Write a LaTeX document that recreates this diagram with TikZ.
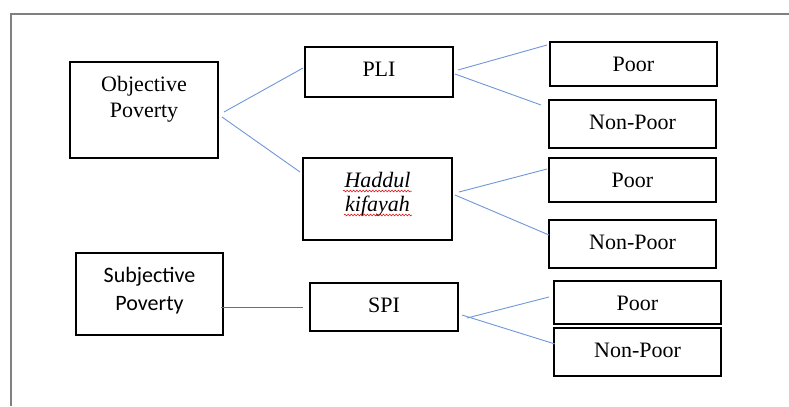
\documentclass[tikz,border=0pt]{standalone}
\usepackage{fontspec}
\setmainfont{Liberation Serif}
\newfontfamily\calib{Carlito}
\usetikzlibrary{decorations.pathmorphing}
\definecolor{connblue}{RGB}{112,150,218}
\definecolor{darkblue}{RGB}{68,114,196}
\definecolor{framegray}{RGB}{128,128,128}
\newcommand{\bxt}[3]{\parbox[c][#2][t]{#1}{\centering\rule{0pt}{29bp}#3}}
\tikzset{
  boxnode/.style={draw=black, line width=1.6bp, inner sep=0pt, outer sep=0pt},
  conn/.style={draw=connblue, line width=0.9bp},
  conndark/.style={draw=darkblue, line width=0.9bp},
  wavy/.style={draw=red!85!black, line width=0.5bp, decorate,
    decoration={snake, amplitude=0.9bp, segment length=3.2bp}}
}
\begin{document}
\begin{tikzpicture}[x=1bp, y=-1bp]
\useasboundingbox (0,0) rectangle (789,406);
\fontsize{22bp}{26bp}\selectfont
% frame
\draw[framegray, line width=1.3bp] (789,14) -- (11,14) -- (11,406);

% boxes
\node[boxnode] (obj) at (144,110) {\bxt{148bp}{96bp}{Objective\\Poverty}};
\node[boxnode] (pli) at (379,72) {\bxt{148bp}{50bp}{PLI}};
\node[boxnode] (had) at (377.5,199) {\bxt{149bp}{82bp}{\fontsize{22bp}{24bp}\selectfont\itshape Haddul\\kifayah}};
\node[boxnode] (p1) at (633.5,64) {\bxt{167bp}{44bp}{Poor}};
\node[boxnode] (n1) at (632.5,124) {\bxt{167bp}{48bp}{Non-Poor}};
\node[boxnode] (p2) at (632.5,180) {\bxt{167bp}{44bp}{Poor}};
\node[boxnode] (n2) at (632.5,244) {\bxt{167bp}{48bp}{Non-Poor}};
\node[boxnode] (subj) at (149.5,294) {\bxt{147bp}{82bp}{\calib\fontsize{22bp}{28bp}\selectfont Subjective\\Poverty}};
\node[boxnode] (spi) at (384,307) {\bxt{148bp}{48bp}{SPI}};
\node[boxnode] (p3) at (637.5,302.5) {\bxt{167bp}{43bp}{Poor}};
\node[boxnode] (n3) at (637.5,352) {\bxt{167bp}{48bp}{Non-Poor}};

% spell-check underlines
\draw[wavy] (343,191) -- (412,191);
\draw[wavy] (344,215) -- (412,215);

% connectors
\draw[conn] ([shift={(6,2)}]obj.east) -- ([shift={(-2,-4)}]pli.west);
\draw[conn] ([shift={(4,7)}]obj.east) -- ([shift={(-3,14)}]had.north west);
\draw[conn] ([shift={(5,-2)}]pli.east) -- ([shift={(-3,-19)}]p1.west);
\draw[conn] ([shift={(2,2)}]pli.east) -- ([shift={(-8,-19)}]n1.west);
\draw[conn] ([shift={(7,-7)}]had.east) -- ([shift={(-2,-11)}]p2.west);
\draw[conn] ([shift={(3,-4)}]had.east) -- ([shift={(0,-9)}]n2.west);
\draw[conndark] ([shift={(-2,13)}]subj.east) -- ([shift={(-7,0)}]spi.west);
\draw[conn] ([shift={(9,11)}]spi.east) -- ([shift={(-5,-5.5)}]p3.west);
\draw[conn] ([shift={(4,8)}]spi.east) -- ([shift={(1,-8)}]n3.west);
\end{tikzpicture}
\end{document}
